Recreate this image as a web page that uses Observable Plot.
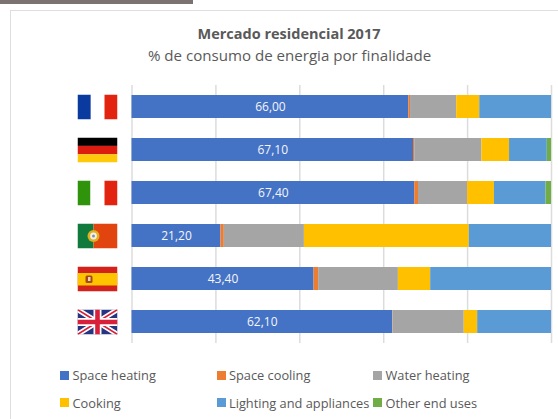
<!DOCTYPE html>
<html>
<head>
<meta charset="utf-8">
<script src="https://cdn.jsdelivr.net/npm/d3@7"></script>
<script src="https://cdn.jsdelivr.net/npm/@observablehq/plot@0.6"></script>
<style>
html,body{margin:0;padding:0;background:#fff;overflow:hidden}
#page{position:relative;width:558px;height:419px;overflow:hidden;font-family:"Open Sans",sans-serif;color:#595959}
#topbar{position:absolute;left:0;top:0;width:193px;height:4px;background:#7b7371}
#border{position:absolute;left:10px;top:10px;width:548px;height:409px;border-left:1.5px solid #dedede;border-top:1.5px solid #dedede;box-sizing:border-box}
#title{position:absolute;left:0;width:578px;top:24px;text-align:center;font:bold 14.5px "Open Sans",sans-serif;color:#595959}
#subtitle{position:absolute;left:0;width:579px;top:45px;text-align:center;font:15.1px "Open Sans",sans-serif;color:#595959}
#chart{position:absolute;left:0;top:85px}
#chart svg{display:block}
#legend{position:absolute;left:60px;top:361.5px;display:grid;grid-template-columns:156.5px 156.5px 156.5px;grid-auto-rows:27.5px;font:12.8px "Open Sans",sans-serif;color:#595959;white-space:nowrap}
#legend div{display:flex;align-items:center}
#legend i{display:inline-block;width:9px;height:9px;margin-right:3.5px}
</style>
</head>
<body>
<div id="page">
  <div id="topbar"></div>
  <div id="border"></div>
  <div id="title">Mercado residencial 2017</div>
  <div id="subtitle">% de consumo de energia por finalidade</div>
  <div id="chart"></div>
  <div id="legend"></div>
</div>
<script>
const countries = ["France", "Germany", "Italy", "Portugal", "Spain", "United Kingdom"];
const endUses = ["Space heating", "Space cooling", "Water heating", "Cooking", "Lighting and appliances", "Other end uses"];
const colors = ["#4472c4", "#ed7d31", "#a5a5a5", "#ffc000", "#5b9bd5", "#70ad47"];
const spaceHeating = [66.0, 67.1, 67.4, 21.2, 43.4, 62.1];
const spaceCooling = [0.4, 0.3, 0.9, 0.8, 1.1, 0.1];
const waterHeating = [11.0, 16.0, 11.7, 19.1, 19.0, 17.0];
const cooking = [5.5, 6.6, 6.4, 39.3, 7.7, 3.2];
const lighting = [17.1, 9.0, 12.3, 19.6, 28.8, 17.6];
const otherUses = [0, 1.0, 1.3, 0, 0, 0];
const gridTicks = [0, 20, 40, 60, 80, 100];

const flagMarkup = [
  '<rect width="13.3" height="25" fill="#0a39a0"/><rect x="13.3" width="13.7" height="25" fill="#fff"/><rect x="27" width="13" height="25" fill="#e1230f"/>',
  '<rect width="40" height="8.4" fill="#000"/><rect y="8.4" width="40" height="8.4" fill="#dd1c10"/><rect y="16.8" width="40" height="8.2" fill="#ffc90a"/>',
  '<rect width="13" height="25" fill="#2f930c"/><rect x="13" width="14" height="25" fill="#fff"/><rect x="27" width="13" height="25" fill="#e1230f"/>',
  '<rect width="16" height="25" fill="#0f7a3c"/><rect x="16" width="24" height="25" fill="#e2440f"/><circle cx="16" cy="12.5" r="6" fill="#e0b020"/><circle cx="16" cy="12.5" r="3.4" fill="#f4f0e8"/><circle cx="16" cy="12.5" r="1.5" fill="#8090b8"/>',
  '<rect width="40" height="25" fill="#d3211b"/><rect y="6.5" width="40" height="12.5" fill="#ffc400"/><rect x="8" y="9" width="7" height="7.5" rx="1.5" fill="#a8481c"/><rect x="10.5" y="10.5" width="2.5" height="4" fill="#e8d8b0"/>',
  '<rect width="40" height="25" fill="#27347f"/><path d="M0 0L40 25M40 0L0 25" stroke="#fff" stroke-width="5"/><path d="M0 0L40 25M40 0L0 25" stroke="#d8203a" stroke-width="1.6"/><path d="M20 0V25M0 12.5H40" stroke="#fff" stroke-width="8"/><path d="M20 0V25M0 12.5H40" stroke="#d8203a" stroke-width="4.6"/>'
];
const flagSrc = m => "data:image/svg+xml;utf8," + encodeURIComponent(
  '<svg xmlns="http://www.w3.org/2000/svg" width="40" height="25" viewBox="0 0 40 25" preserveAspectRatio="none">' + m + '</svg>');

const seriesValues = [spaceHeating, spaceCooling, waterHeating, cooking, lighting, otherUses];
const rows = endUses.flatMap((use, i) => countries.map((country, j) => ({country, use, value: seriesValues[i][j]})));
const heatingRows = countries.map((country, j) => ({country, value: spaceHeating[j]}));
const flagRows = countries.map((country, j) => ({country, x: 0, src: flagSrc(flagMarkup[j])}));

const chart = Plot.plot({
  width: 558,
  height: 258,
  marginTop: 0, marginBottom: 0, marginLeft: 131.5, marginRight: 7,
  style: {background: "transparent", overflow: "visible"},
  x: {domain: [0, 100], axis: null},
  y: {domain: countries, axis: null, paddingInner: 0.46, paddingOuter: 0.23},
  color: {domain: endUses, range: colors},
  marks: [
    Plot.ruleX(gridTicks, {stroke: "#dcdcdc", strokeWidth: 1.5}),
    Plot.barX(rows, {x: "value", y: "country", fill: "use", order: endUses}),
    Plot.text(heatingRows, {
      x: d => d.value / 2, y: "country",
      text: d => d.value.toFixed(2).replace(".", ","),
      fill: "#f4f6fb", fontSize: 12, fontFamily: "Open Sans, sans-serif"
    }),
    Plot.image(flagRows, {x: "x", y: "country", src: "src", width: 40, height: 25, dx: -34.5, preserveAspectRatio: "none"})
  ]
});
document.getElementById("chart").appendChild(chart);

const legend = document.getElementById("legend");
[0, 1, 2, 3, 4, 5].forEach(i => {
  const item = document.createElement("div");
  const swatch = document.createElement("i");
  swatch.style.background = colors[i];
  item.appendChild(swatch);
  item.appendChild(document.createTextNode(endUses[i]));
  legend.appendChild(item);
});
</script>
</body>
</html>
